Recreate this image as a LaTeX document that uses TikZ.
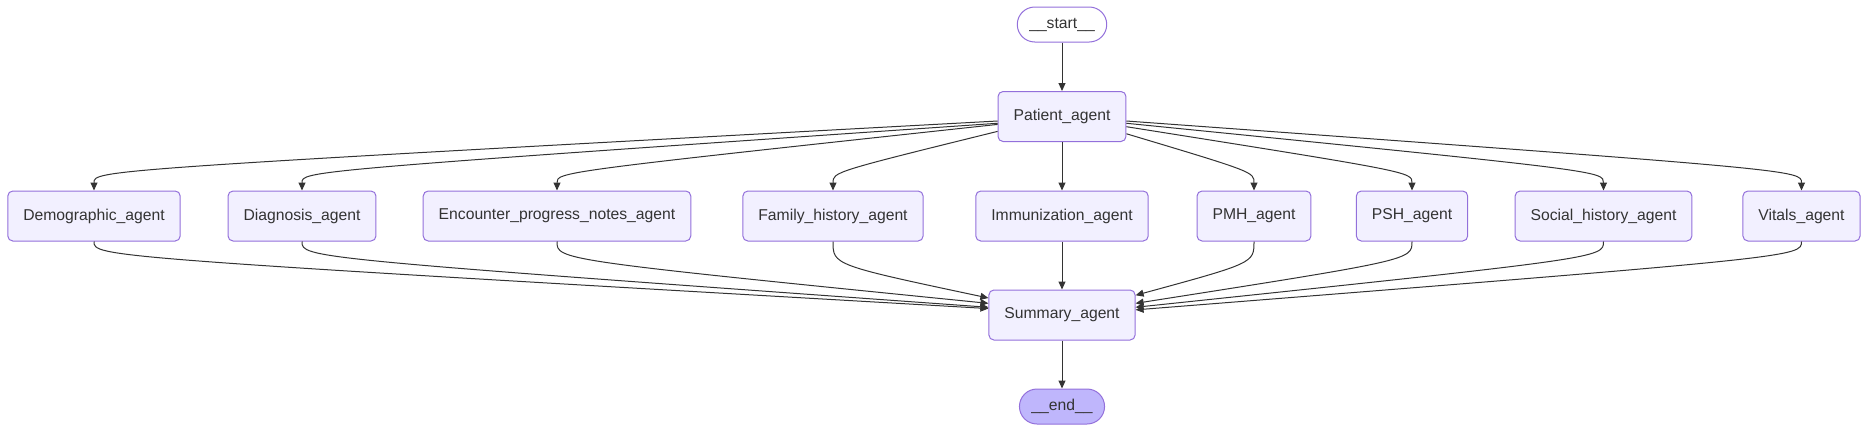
\documentclass[tikz,border=0pt]{standalone}
\usepackage{fontspec}
\setmainfont{Liberation Sans}
\usepackage{xcolor}
\usepackage{tikz}
\usetikzlibrary{arrows.meta}
\definecolor{agentfill}{HTML}{F2F0FF}
\definecolor{agentline}{HTML}{9370DB}
\definecolor{endfill}{HTML}{BFB6FC}
\definecolor{edgeline}{HTML}{333333}

\begin{document}
\begin{tikzpicture}[x=1pt, y=-1pt,
  agent/.style={rectangle, rounded corners=5pt, draw=agentline, fill=agentfill,
                line width=1pt, minimum height=50pt, inner xsep=15.5pt,
                text=edgeline, font=\fontsize{15.7}{18}\selectfont},
  term/.style={agent, rounded corners=17.5pt, minimum height=35pt, inner xsep=12pt},
  edge/.style={draw=edgeline, line width=1pt, -{Triangle[length=8pt, width=7pt]}}
]
  \useasboundingbox (0,0) rectangle (1869,432);

  \node[term, fill=white] (start) at (1062, 24.5) {\_\_start\_\_};
  \node[agent] (pat) at (1062, 116.5) {Patient\_agent};

  \node[agent] (demo) at (94, 216)    {Demographic\_agent};
  \node[agent] (diag) at (302, 216)   {Diagnosis\_agent};
  \node[agent] (enc)  at (557, 216)   {Encounter\_progress\_notes\_agent};
  \node[agent] (fam)  at (833, 216)   {Family\_history\_agent};
  \node[agent] (imm)  at (1062, 216)  {Immunization\_agent};
  \node[agent] (pmh)  at (1254, 216)  {PMH\_agent};
  \node[agent] (psh)  at (1412, 216)  {PSH\_agent};
  \node[agent] (soc)  at (1603.5, 216) {Social\_history\_agent};
  \node[agent] (vit)  at (1801.5, 216) {Vitals\_agent};

  \node[agent] (summ) at (1062, 315) {Summary\_agent};
  \node[term, fill=endfill] (finish) at (1062, 406.5) {\_\_end\_\_};

  \draw[edge] (start) -- (pat);

  % fan out
  \draw[edge] (pat.184)   .. controls (94, 170)     .. (demo.north);
  \draw[edge] (pat.186)   .. controls (302, 171)    .. (diag.north);
  \draw[edge] (pat.187.5) .. controls (557, 172)    .. (enc.north);
  \draw[edge] (pat.193)   .. controls (833, 172)    .. (fam.north);
  \draw[edge] (pat) -- (imm);
  \draw[edge] (pat.345.5) .. controls (1254, 172)   .. (pmh.north);
  \draw[edge] (pat.351.7) .. controls (1412, 172)   .. (psh.north);
  \draw[edge] (pat.354)   .. controls (1603.5, 171) .. (soc.north);
  \draw[edge] (pat.356)   .. controls (1801.5, 170) .. (vit.north);

  % fan in
  \draw[edge] (demo.south) .. controls (94, 257)     .. (summ.175);
  \draw[edge] (diag.south) .. controls (302, 258)    .. (summ.174);
  \draw[edge] (enc.south)  .. controls (557, 260)    .. (summ.171.5);
  \draw[edge] (fam.south)  .. controls (833, 265)    .. (summ.167);
  \draw[edge] (imm) -- (summ);
  \draw[edge] (pmh.south)  .. controls (1254, 263)   .. (summ.15.4);
  \draw[edge] (psh.south)  .. controls (1412, 260)   .. (summ.9.6);
  \draw[edge] (soc.south)  .. controls (1603.5, 258) .. (summ.6.5);
  \draw[edge] (vit.south)  .. controls (1801.5, 257) .. (summ.4.5);

  \draw[edge] (summ) -- (finish);
\end{tikzpicture}
\end{document}
